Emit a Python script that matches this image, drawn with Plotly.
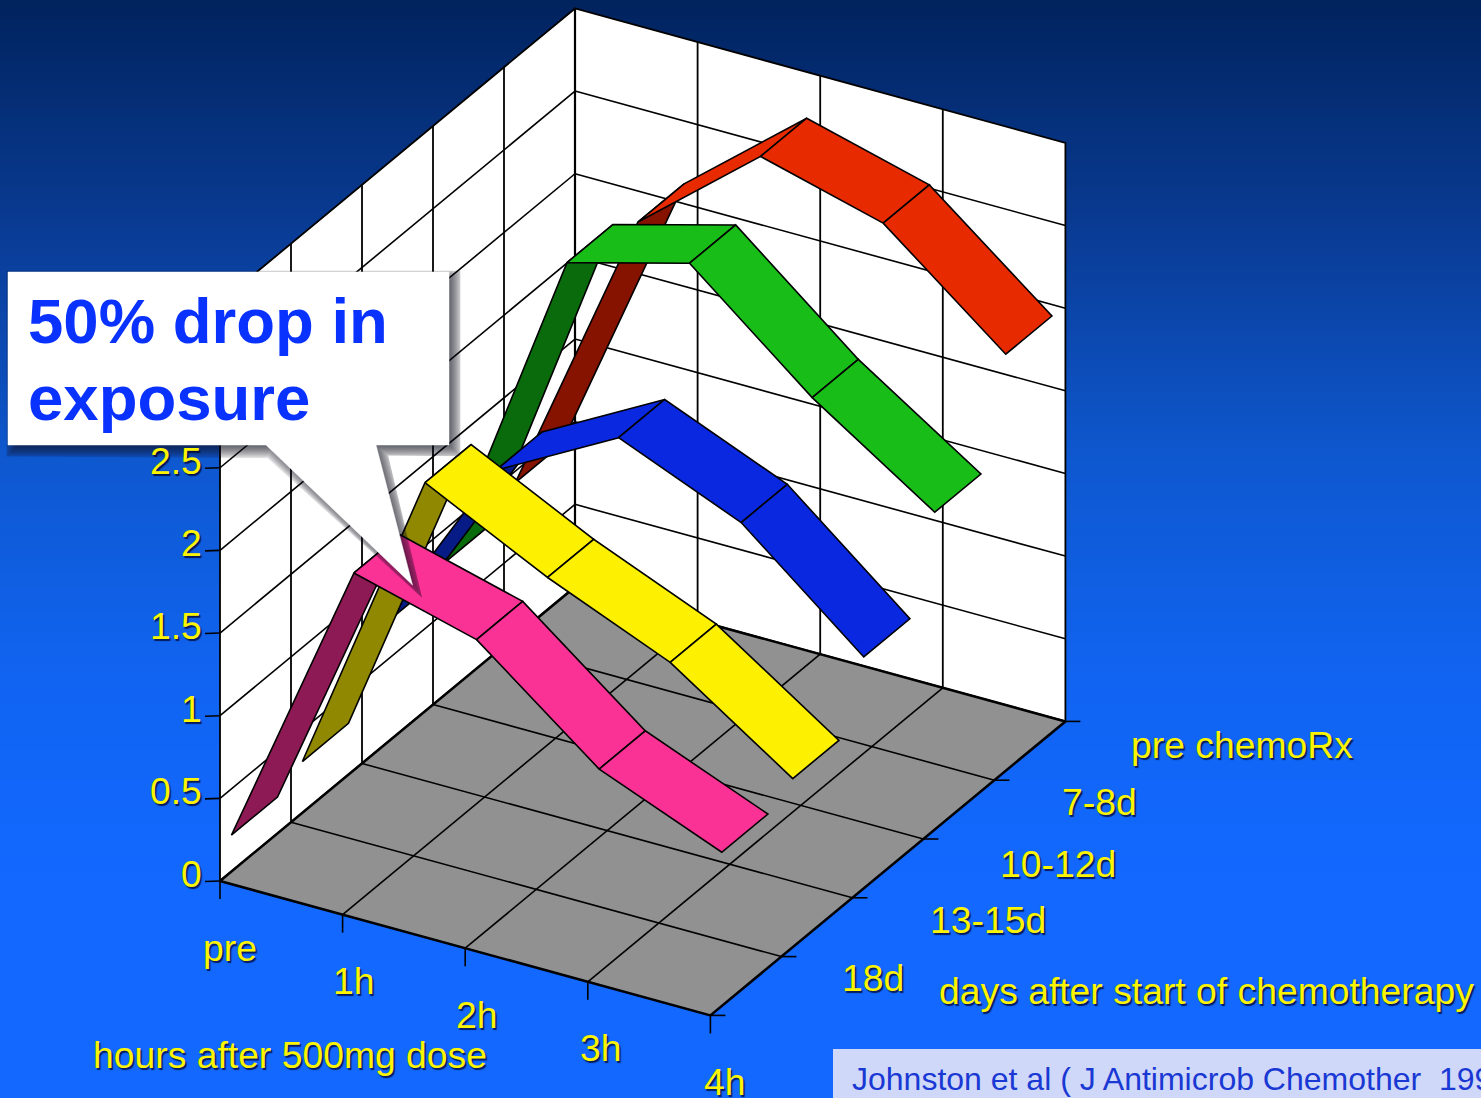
import numpy as np
import plotly.graph_objects as go

# Axis categories
hours = ["pre", "1h", "2h", "3h", "4h"]
days = ["18d", "13-15d", "10-12d", "7-8d", "pre chemoRx"]
exposure_ticks = [0, 0.5, 1, 1.5, 2, 2.5, 3, 3.5]
tick_text = ["0", "0.5", "1", "1.5", "2", "2.5"]

# Exposure per hour, one list per chemotherapy day
exposure_18d = [0.22, 2.01, 1.81, 1.23, 0.93]
exposure_13d = [0.31, 2.20, 1.83, 1.52, 1.02]
exposure_10d = [0.73, 1.92, 2.32, 2.01, 1.40]
exposure_7d = [0.80, 2.82, 3.02, 2.41, 1.92]
exposure_pre = [0.93, 2.71, 3.31, 3.11, 2.52]

# Ribbons run back to front so nearer ones paint over farther ones
ribbons = [
    (exposure_pre, 4, "#e82a00", "#861200"),
    (exposure_7d, 3, "#18bd18", "#096b0b"),
    (exposure_10d, 2, "#0a28e0", "#061b86"),
    (exposure_13d, 1, "#fdf000", "#8f8800"),
    (exposure_18d, 0, "#fb3296", "#8e1a55"),
]

RIBBON_START = 0.16
RIBBON_WIDTH = 0.65
VMAX = 3.5

# Parallel projection of (hour index, day band, exposure) on to the page
ORIGIN = np.array([220.0, 881.0])
HOUR_STEP = np.array([122.6, 33.6])
DAY_STEP = np.array([71.0, -58.8])
VALUE_STEP = np.array([0.0, -165.3])


def project(h, d, v=0.0):
    return ORIGIN + h * HOUR_STEP + d * DAY_STEP + v * VALUE_STEP


def polygon(pts, fill, line="black", width=1.6):
    xs, ys = zip(*pts)
    return go.Scatter(
        x=list(xs) + [xs[0]], y=list(ys) + [ys[0]], mode="lines", fill="toself",
        fillcolor=fill, line=dict(color=line, width=width),
        hoverinfo="skip", showlegend=False,
    )


def segment(a, b, color="black", width=1.6):
    return go.Scatter(
        x=[a[0], b[0]], y=[a[1], b[1]], mode="lines", line=dict(color=color, width=width),
        hoverinfo="skip", showlegend=False,
    )


def grown(pts, amount, limit=9.0):
    """Offset a clockwise-on-screen polygon outwards, with capped mitres."""
    pts = np.array(pts, dtype=float)
    out = []
    n = len(pts)
    for i in range(n):
        prev_dir = pts[i] - pts[i - 1]
        next_dir = pts[(i + 1) % n] - pts[i]
        prev_dir /= np.linalg.norm(prev_dir)
        next_dir /= np.linalg.norm(next_dir)
        n1 = np.array([prev_dir[1], -prev_dir[0]])
        n2 = np.array([next_dir[1], -next_dir[0]])
        mid = n1 + n2
        mid /= np.linalg.norm(mid)
        reach = amount / max(np.dot(mid, n1), 0.05)
        reach = np.clip(reach, -limit, limit)
        out.append(tuple(pts[i] + mid * reach))
    return out


fig = go.Figure()

# Page background: navy at the top, saturated blue towards the bottom
rows = np.arange(1098)
fig.add_trace(go.Heatmap(
    x=[-5, 1486], y=rows, z=np.column_stack([rows, rows]),
    colorscale=[
        [0.0, "#01235e"], [0.23, "#0a3e9a"], [0.42, "#0e58d0"],
        [0.62, "#1164f2"], [0.8, "#1268ff"], [1.0, "#1268ff"],
    ],
    showscale=False, hoverinfo="skip",
))

n_h = len(hours) - 1
n_d = len(days)

# Walls and floor
fig.add_trace(polygon([project(0, 0), project(0, 0, VMAX), project(0, n_d, VMAX), project(0, n_d)], "white", width=1.8))
fig.add_trace(polygon([project(0, n_d), project(0, n_d, VMAX), project(n_h, n_d, VMAX), project(n_h, n_d)], "white", width=1.8))
fig.add_trace(polygon([project(0, 0), project(n_h, 0), project(n_h, n_d), project(0, n_d)], "#919191", width=2.6))

# Gridlines on the walls
for v in exposure_ticks[1:-1]:
    fig.add_trace(segment(project(0, 0, v), project(0, n_d, v)))
    fig.add_trace(segment(project(0, n_d, v), project(n_h, n_d, v)))
for d in range(1, n_d):
    fig.add_trace(segment(project(0, d), project(0, d, VMAX), width=1.8))
for h in range(1, n_h):
    fig.add_trace(segment(project(h, n_d), project(h, n_d, VMAX), width=1.8))
fig.add_trace(segment(project(0, n_d), project(0, n_d, VMAX), width=2.2))

# Gridlines on the floor
for d in range(1, n_d):
    fig.add_trace(segment(project(0, d), project(n_h, d)))
for h in range(1, n_h):
    fig.add_trace(segment(project(h, 0), project(h, n_d)))

# Tick marks on the three axes
for v in exposure_ticks:
    a = project(0, 0, v)
    fig.add_trace(segment(a, a + np.array([-15, 0.5])))
for h in range(n_h + 1):
    a = project(h, 0)
    fig.add_trace(segment(a, a + np.array([0, 18])))
for d in range(n_d + 1):
    a = project(n_h, d)
    fig.add_trace(segment(a, a + np.array([15, 0])))

# Ribbons: the rising first segment shows its shaded underside
for values, band, color, under in ribbons:
    d0 = band + RIBBON_START
    d1 = d0 + RIBBON_WIDTH
    for h in range(n_h):
        quad = [
            project(h, d0, values[h]), project(h, d1, values[h]),
            project(h + 1, d1, values[h + 1]), project(h + 1, d0, values[h + 1]),
        ]
        fig.add_trace(polygon(quad, under if h == 0 else color))

# Callout with a soft drop shadow
callout = [(8, 272), (449, 272), (449, 445), (376, 445), (412.5, 585), (266, 445), (8, 445)]
shifted = [(x + 5, y + 5) for x, y in callout]
for grow in np.arange(9, -6, -1.0):
    ring = grown(shifted, grow)
    ring.append(ring[0])
    fig.add_trace(go.Scatter(
        x=[p[0] for p in ring], y=[p[1] for p in ring],
        mode="lines", fill="toself", fillcolor="rgba(10,10,30,0.065)",
        line=dict(width=0), hoverinfo="skip", showlegend=False,
    ))
fig.add_trace(polygon(callout, "white", line="white", width=0.5))

# Citation strip along the bottom edge
fig.add_trace(polygon([(833, 1049), (1490, 1049), (1490, 1105), (833, 1105)], "#cfd8f8", line="#cfd8f8", width=0))

YELLOW = dict(family="Liberation Sans", size=37.3, color="#fdf500", shadow="1.5px 1.5px 1px rgba(0,0,40,0.75)")


def label(text, x, y, anchor="center", font=YELLOW):
    fig.add_annotation(
        x=x, y=y, text=text, showarrow=False, xanchor=anchor, yanchor="middle",
        xref="x", yref="y", font=font, align="left",
    )


# Exposure tick labels sit left of their ticks
for v, text in zip(exposure_ticks, tick_text):
    a = project(0, 0, v)
    label(text, a[0] - 16, a[1] - 7, anchor="right")

# Hour labels follow the front floor edge
for h, text in enumerate(hours):
    a = project(h, 0)
    label(text, a[0] + 10 + h * 1.1, a[1] + 66.5, anchor="center")

# Day labels follow the right floor edge, each beside the tick at the back of its band
day_nudges = [(59, 21), (76, 22), (75, 25), (66, 22), (64, 24)]
for d, (text, nudge) in enumerate(zip(days, day_nudges)):
    a = project(n_h, d + 1)
    label(text, a[0] + nudge[0], a[1] + nudge[1], anchor="left")

label("hours after 500mg dose", 290, 1055)
label("days after start of chemotherapy", 937, 991, anchor="left")

CALLOUT_FONT = dict(family="Liberation Sans", size=63.5, color="#0a32ff", weight="bold")
label("50% drop in", 26, 321, anchor="left", font=CALLOUT_FONT)
label("exposure", 26, 398, anchor="left", font=CALLOUT_FONT)

label("Johnston et al ( J Antimicrob Chemother  1999)", 850, 1079, anchor="left",
      font=dict(family="Liberation Sans", size=32, color="#1a38d4"))

fig.update_layout(
    width=1481, height=1098, margin=dict(l=0, r=0, t=0, b=0),
    paper_bgcolor="#1268ff", plot_bgcolor="#1268ff", showlegend=False,
    xaxis=dict(range=[0, 1481], visible=False, fixedrange=True),
    yaxis=dict(range=[1098, 0], visible=False, fixedrange=True),
)

fig.write_html("out.html", config=dict(displayModeBar=False))
